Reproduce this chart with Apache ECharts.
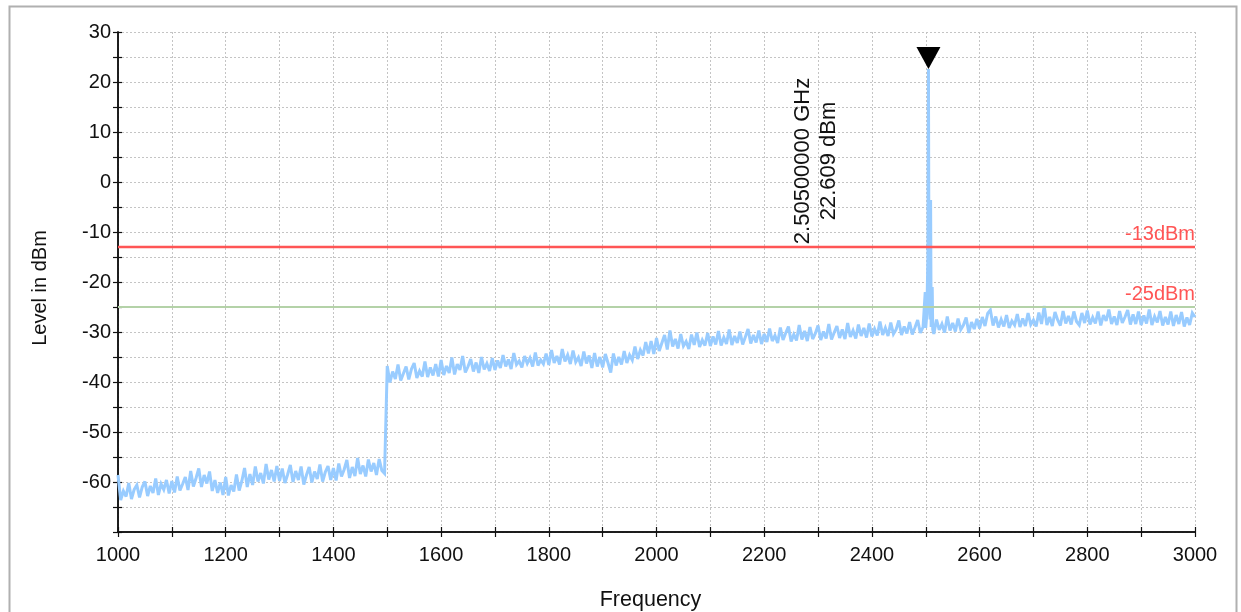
<!DOCTYPE html>
<html>
<head>
<meta charset="utf-8">
<script src="https://cdn.jsdelivr.net/npm/echarts@6/dist/echarts.min.js"></script>
<style>
html,body{margin:0;padding:0;background:#fff;}
#c{width:1241px;height:612px;}
</style>
</head>
<body>
<div id="c"></div>
<script>
// Sweep definition (MHz)
const sweepStart = 1000;
const sweepStep = 5;
// Measured trace levels (dBm), one per sweep point; null = covered by carrier detail
const traceLevels = [
 -58.6,-63.6,-61.8,-62.9,-60.2,-63.4,-61.5,-60.6,-63.1,-61.0,-59.9,-62.8,-60.8,-62.2,-59.3,-62.6,-60.4,-61.5,-59.6,-62.3,
 -59.8,-62.1,-58.9,-61.7,-60.4,-59.0,-61.6,-57.8,-60.9,-59.2,-57.3,-61.0,-58.6,-60.3,-57.9,-61.8,-59.6,-62.2,-60.1,-62.6,
 -59.0,-62.7,-60.6,-61.9,-58.5,-61.7,-59.8,-57.2,-61.0,-58.4,-60.6,-56.9,-59.9,-58.2,-60.3,-56.4,-59.5,-57.6,-59.9,-56.8,
 -59.8,-57.3,-60.2,-58.5,-56.6,-60.0,-57.8,-59.6,-56.9,-60.5,-58.6,-57.0,-60.1,-57.9,-59.4,-56.5,-59.9,-58.0,-56.8,-59.6,
 -57.2,-59.7,-56.3,-58.9,-57.5,-55.6,-59.2,-57.0,-58.8,-55.2,-58.4,-56.7,-58.9,-55.5,-57.9,-56.2,-58.6,-55.4,-57.7,-58.3,
 -36.8,-40.1,-37.9,-39.4,-36.5,-39.7,-38.3,-36.9,-39.5,-37.4,-36.2,-39.2,-37.8,-38.9,-35.9,-39.0,-37.1,-38.7,-36.4,-38.9,
 -35.6,-38.6,-36.8,-38.2,-35.1,-38.5,-36.4,-37.6,-34.8,-38.1,-36.9,-35.4,-37.9,-36.1,-38.2,-35.0,-37.5,-36.3,-37.8,-35.2,
 -37.6,-35.7,-37.2,-34.6,-36.9,-35.5,-37.4,-34.2,-36.5,-35.8,-37.1,-34.8,-36.3,-35.2,-36.9,-34.1,-36.7,-35.6,-36.4,-34.3,
 -36.6,-33.6,-36.2,-34.8,-36.5,-33.4,-35.9,-34.6,-36.4,-33.7,-36.0,-35.1,-36.8,-33.9,-36.3,-34.7,-37.2,-34.2,-36.9,-35.0,
 -37.1,-34.4,-36.2,-38.1,-34.3,-36.7,-35.0,-36.5,-33.8,-36.2,-34.6,-35.6,-32.9,-35.4,-33.6,-34.7,-32.0,-34.3,-31.8,-34.4,
 -31.2,-33.8,-32.2,-30.6,-33.5,-29.7,-32.9,-31.4,-33.3,-30.4,-32.8,-31.9,-33.4,-30.5,-32.6,-30.1,-33.0,-31.6,-32.7,-30.2,
 -32.8,-30.9,-32.5,-29.8,-32.7,-31.1,-32.4,-29.5,-32.6,-30.8,-32.2,-29.9,-32.5,-31.0,-29.4,-32.3,-30.6,-32.1,-29.7,-32.4,
 -30.4,-32.0,-29.3,-31.8,-30.7,-32.2,-29.1,-31.6,-30.2,-28.9,-31.9,-30.5,-31.7,-28.6,-31.5,-29.8,-31.8,-29.0,-31.4,-30.3,
 -28.7,-31.6,-29.9,-31.3,-28.4,-31.5,-30.1,-28.8,-31.2,-29.5,-31.4,-28.2,-31.0,-29.7,-31.3,-28.5,-30.8,-29.2,-31.1,-28.3,
 -30.9,-29.4,-30.7,-27.9,-30.6,-29.2,-30.8,-28.1,-30.4,-29.5,-27.7,-30.6,-28.9,-30.3,-28.0,-30.5,-29.1,-27.6,-30.2,-29.0,
 null, null, null,-30.4,-27.5,-29.6,-28.4,-30.1,-26.9,-29.7,-28.2,-29.9,-27.3,-29.5,-28.6,-27.1,-30.2,-28.0,-29.4,-27.4,
 -29.3,-27.0,-28.8,-26.3,-25.6,-28.7,-26.9,-29.1,-27.5,-28.9,-26.6,-29.2,-27.8,-28.6,-26.4,-29.0,-27.3,-28.8,-26.2,-28.5,
 -27.6,-28.9,-26.1,-28.4,-24.8,-28.6,-27.0,-28.8,-26.0,-27.6,-28.7,-25.8,-28.3,-26.8,-28.5,-25.9,-27.9,-28.6,-26.2,-28.2,
 -25.7,-28.5,-27.1,-28.3,-25.9,-28.7,-26.6,-27.8,-25.5,-28.4,-26.9,-28.6,-25.8,-28.2,-27.0,-25.6,-28.5,-26.5,-28.4,-25.9,
 -28.6,-26.7,-28.3,-25.5,-28.6,-26.9,-28.1,-25.8,-28.7,-27.0,-28.5,-25.9,-28.8,-26.6,-28.4,-26.0,-28.9,-27.1,-28.6,-26.2,
 -27.0
];
// Carrier detail around the peak
const carrierFreqs  = [2498, 2499, 2500, 2502, 2504, 2505, 2506, 2508, 2509, 2510, 2512, 2513];
const carrierLevels = [-28.8, -22.0, -29.2, -26.5, -15.0, 22.609, -20.0, -27.5, -3.6, -29.0, -21.0, -29.5];
// Marker
const markerFreq = 2505;     // MHz
const markerLevel = 22.609;  // dBm
// Limit lines
const limitLevels = [-13, -25];
const limitLabels = ['-13dBm', '-25dBm'];
const limitColors = ['#ff5555', '#b4d2a8'];
// Axes
const xMin = 1000, xMax = 3000, xStep = 200;
const yMin = -70, yMax = 30, yStep = 10;
const yHiddenLabels = [-70];

const FONT = "'Liberation Sans', Arial, sans-serif";
const pts = [];
traceLevels.forEach((v, i) => { if (v !== null) pts.push([sweepStart + sweepStep * i, v]); });
carrierFreqs.forEach((f, i) => pts.push([f, carrierLevels[i]]));
pts.sort((a, b) => a[0] - b[0]);

const gridLine = { show: true, lineStyle: { color: '#c4c4c4', type: [2, 2], width: 1 } };
const axisBase = {
  type: 'value',
  axisLine: { show: true, onZero: false, lineStyle: { color: '#111', width: 1.5 } },
};
const tickStyle = { color: '#111', width: 1.2 };

const chart = echarts.init(document.getElementById('c'), null, { renderer: 'canvas' });
const border = { type: 'rect', left: 7, top: 4, shape: { width: 1227, height: 610 },
  style: { fill: 'none', stroke: '#b0b0b0', lineWidth: 2 }, silent: true, z: -10 };
const option = {
  animation: false,
  backgroundColor: '#fff',
  grid: { left: 118, right: 46, top: 32, bottom: 80, containLabel: false, outerBoundsMode: 'none' },
  xAxis: [
    Object.assign({}, axisBase, {
      min: xMin, max: xMax, interval: xStep, position: 'bottom',
      axisTick: { show: true, length: 5, lineStyle: tickStyle },
      minorTick: { show: true, splitNumber: 2, length: 5, lineStyle: tickStyle },
      splitLine: gridLine, minorSplitLine: gridLine,
      axisLabel: { fontFamily: FONT, fontSize: 20, color: '#111', margin: 13, formatter: v => String(v) },
      name: 'Frequency', nameLocation: 'middle', nameGap: 57,
      nameTextStyle: { fontFamily: FONT, fontSize: 21.5, color: '#111', padding: [0, 12, 0, 0] }
    }),
    Object.assign({}, axisBase, {
      min: xMin, max: xMax, interval: xStep, position: 'bottom',
      axisTick: { show: true, inside: true, length: 5, lineStyle: tickStyle },
      minorTick: { show: true, splitNumber: 2, length: 5, lineStyle: tickStyle },
      splitLine: { show: false }, axisLabel: { show: false }
    })
  ],
  yAxis: [
    Object.assign({}, axisBase, {
      min: yMin, max: yMax, interval: yStep, position: 'left',
      axisTick: { show: true, length: 5, lineStyle: tickStyle },
      minorTick: { show: true, splitNumber: 2, length: 5, lineStyle: tickStyle },
      splitLine: gridLine, minorSplitLine: gridLine,
      axisLabel: { fontFamily: FONT, fontSize: 20, color: '#111', margin: 7,
        formatter: v => (yHiddenLabels.indexOf(v) >= 0 ? '' : String(v)) },
      name: 'Level in dBm', nameLocation: 'middle', nameGap: 68, nameRotate: 90,
      nameTextStyle: { fontFamily: FONT, fontSize: 20, color: '#111', padding: [0, 12, 0, 0] }
    }),
    Object.assign({}, axisBase, {
      min: yMin, max: yMax, interval: yStep, position: 'left',
      axisTick: { show: true, inside: true, length: 4, lineStyle: tickStyle },
      minorTick: { show: true, splitNumber: 2, length: 4, lineStyle: tickStyle },
      splitLine: { show: false }, axisLabel: { show: false }
    })
  ],
  series: [
    {
      type: 'line', name: 'Trace', data: pts, xAxisIndex: 0, yAxisIndex: 0,
      showSymbol: false, symbol: 'none', sampling: false,
      lineStyle: { color: '#99ccff', width: 3, join: 'miter', miterLimit: 3 }, z: 3,
      markLine: {
        silent: true, symbol: 'none', animation: false,
        data: limitLevels.map((lv, i) => ({
          yAxis: lv,
          lineStyle: { color: limitColors[i], width: i === 0 ? 2.4 : 1.8, type: 'solid' },
          label: { show: true, position: 'insideEndTop', formatter: limitLabels[i],
            color: '#ff5555', fontFamily: FONT, fontSize: 20, distance: [0, 3] }
        }))
      },
      markPoint: {
        silent: true, animation: false,
        data: [{
          coord: [markerFreq, markerLevel], symbol: 'triangle', symbolRotate: 180,
          symbolSize: [24, 22], symbolOffset: [0, -11],
          itemStyle: { color: '#000' }, label: { show: false }
        }]
      }
    }
  ],
  graphic: [border]
};
chart.setOption(option);

// Marker readout, placed left of the marker above the upper limit line
const anchor = chart.convertToPixel({ gridIndex: 0 }, [markerFreq, limitLevels[0]]);
const readout = [
  (markerFreq / 1000).toFixed(8) + ' GHz',
  markerLevel.toFixed(3) + ' dBm'
];
chart.setOption({
  graphic: [border].concat(readout.map((t, i) => ({
    type: 'text', x: anchor[0] - 126 + i * 26, y: anchor[1] - 86, rotation: Math.PI / 2,
    style: { text: t, fill: '#111', font: '22px ' + FONT, textAlign: 'center', textVerticalAlign: 'middle' },
    z: 10, silent: true
  })))
});
</script>
</body>
</html>
